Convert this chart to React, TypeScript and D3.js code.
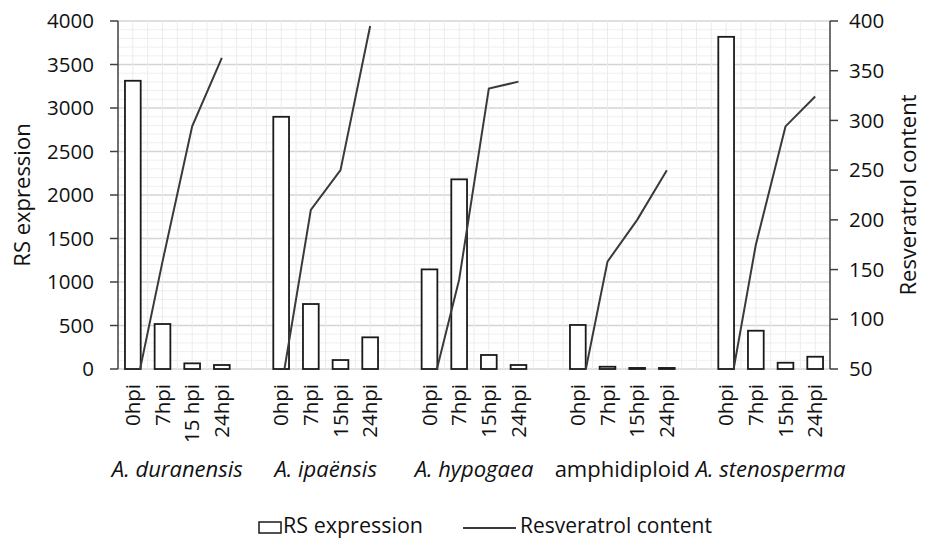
import React from 'react';
import * as d3 from 'd3';

const groups = ['A. duranensis', 'A. ipaënsis', 'A. hypogaea', 'amphidiploid', 'A. stenosperma'];
const italicGroups = [true, true, true, false, true];
const timeLabels = [
	['0hpi', '7hpi', '15 hpi', '24hpi'],
	['0hpi', '7hpi', '15hpi', '24hpi'],
	['0hpi', '7hpi', '15hpi', '24hpi'],
	['0hpi', '7hpi', '15hpi', '24hpi'],
	['0hpi', '7hpi', '15hpi', '24hpi'],
];
const rsExpression = [
	[3313, 517, 65, 46],
	[2899, 747, 103, 364],
	[1145, 2180, 161, 46],
	[506, 26, 12, 12],
	[3818, 440, 72, 141],
];
const resveratrol = [
	[15, 158, 294, 363],
	[30, 210, 250, 395],
	[20, 140, 332, 339],
	[10, 158, 200, 250],
	[8, 175, 294, 324],
];
const leftTicks = [0, 500, 1000, 1500, 2000, 2500, 3000, 3500, 4000];
const rightTicks = [50, 100, 150, 200, 250, 300, 350, 400];

const W = 925;
const H = 538;
const plot = { left: 118, right: 830, top: 21, bottom: 369 };
const font = "'Open Sans', 'DejaVu Sans', sans-serif";

// one slot per time point, plus one empty slot between groups
const slots: string[] = [];
groups.forEach((_, g) => {
	timeLabels[g].forEach((_, i) => slots.push(`${g}-${i}`));
	if (g < groups.length - 1) slots.push(`gap-${g}`);
});

const App: React.FC = () => {
	const x = d3.scaleBand<string>().domain(slots).range([plot.left, plot.right]).padding(0);
	const step = x.bandwidth();
	const cx = (key: string) => (x(key) ?? 0) + step / 2;
	const barW = step * 0.53;

	const yL = d3.scaleLinear().domain([0, 4000]).range([plot.bottom, plot.top]);
	const yR = d3.scaleLinear().domain([50, 400]).range([plot.bottom, plot.top]);

	const minorH = d3.range(0, 4001, 100);
	const vGrid = d3.scaleLinear().domain([0, slots.length * 2]).range([plot.left, plot.right]);
	const vLines = d3.range(1, slots.length * 2);

	return (
		<svg
			width={W}
			height={H}
			style={{ position: 'absolute', left: 0, top: 0, background: '#fff' }}
			fontFamily={font}>
			<defs>
				<clipPath id="plotClip">
					<rect x={plot.left} y={plot.top - 2} width={plot.right - plot.left} height={plot.bottom - plot.top + 2} />
				</clipPath>
			</defs>

			{/* graph-paper grid */}
			{minorH.map((v) => (
				<line
					key={'h' + v}
					x1={plot.left}
					x2={plot.right}
					y1={yL(v)}
					y2={yL(v)}
					stroke={v % 500 === 0 ? '#d4d4d4' : '#efefef'}
					strokeWidth={v % 500 === 0 ? 1.5 : 1}
				/>
			))}
			{vLines.map((k) => (
				<line key={'v' + k} x1={vGrid(k)} x2={vGrid(k)} y1={plot.top} y2={plot.bottom} stroke="#ececec" strokeWidth={1} />
			))}

			{/* bars */}
			{rsExpression.map((vals, g) =>
				vals.map((v, i) => {
					const key = `${g}-${i}`;
					return (
						<rect
							key={'b' + key}
							x={cx(key) - barW / 2}
							y={yL(v)}
							width={barW}
							height={plot.bottom - yL(v)}
							fill="#fff"
							stroke="#1a1a1a"
							strokeWidth={1.8}
						/>
					);
				}),
			)}

			{/* resveratrol lines, one per group */}
			<g clipPath="url(#plotClip)">
				{resveratrol.map((vals, g) => {
					const gen = d3
						.line<number>()
						.x((_, i) => cx(`${g}-${i}`))
						.y((d) => yR(d));
					return <path key={'l' + g} d={gen(vals) ?? ''} fill="none" stroke="#3a3a3a" strokeWidth={2} />;
				})}
			</g>

			{/* left axis */}
			<line x1={plot.left} x2={plot.left} y1={plot.top} y2={plot.bottom} stroke="#404040" strokeWidth={1.5} />
			{leftTicks.map((t) => (
				<g key={'lt' + t}>
					<line x1={plot.left - 8} x2={plot.left} y1={yL(t)} y2={yL(t)} stroke="#404040" strokeWidth={1.5} />
					<text x={94} y={yL(t)} dy="0.35em" textAnchor="end" fontSize={20.5} fill="#111">
						{t}
					</text>
				</g>
			))}
			<text
				transform={`translate(30,${(plot.top + plot.bottom) / 2}) rotate(-90)`}
				textAnchor="middle"
				fontSize={22}
				fill="#111">
				RS expression
			</text>

			{/* right axis */}
			<line x1={plot.right} x2={plot.right} y1={plot.top} y2={plot.bottom} stroke="#404040" strokeWidth={1.5} />
			{rightTicks.map((t) => (
				<g key={'rt' + t}>
					<line x1={plot.right} x2={plot.right + 8} y1={yR(t)} y2={yR(t)} stroke="#404040" strokeWidth={1.5} />
					<text x={849} y={yR(t)} dy="0.35em" textAnchor="start" fontSize={20.5} fill="#111">
						{t}
					</text>
				</g>
			))}
			<text
				transform={`translate(916,${(plot.top + plot.bottom) / 2}) rotate(-90)`}
				textAnchor="middle"
				fontSize={22}
				fill="#111">
				Resveratrol content
			</text>

			{/* category labels */}
			{timeLabels.map((labels, g) =>
				labels.map((lab, i) => (
					<text
						key={'xt' + g + i}
						transform={`translate(${cx(`${g}-${i}`)},384) rotate(-90)`}
						dy="0.35em"
						textAnchor="end"
						fontSize={20.5}
						fill="#111">
						{lab}
					</text>
				)),
			)}
			{groups.map((name, g) => {
				const mid = (cx(`${g}-0`) + cx(`${g}-3`)) / 2;
				return (
					<text
						key={'g' + g}
						x={mid}
						y={477}
						textAnchor="middle"
						fontSize={22}
						fontStyle={italicGroups[g] ? 'italic' : 'normal'}
						fill="#111">
						{name}
					</text>
				);
			})}

			{/* legend */}
			<rect x={259} y={522} width={22} height={11} fill="#fff" stroke="#1a1a1a" strokeWidth={1.5} />
			<text x={283} y={533} fontSize={21.5} fill="#111">
				RS expression
			</text>
			<line x1={463} x2={516} y1={528} y2={528} stroke="#3a3a3a" strokeWidth={2} />
			<text x={520} y={533} fontSize={21} fill="#111">
				Resveratrol content
			</text>
		</svg>
	);
};

export default App;
